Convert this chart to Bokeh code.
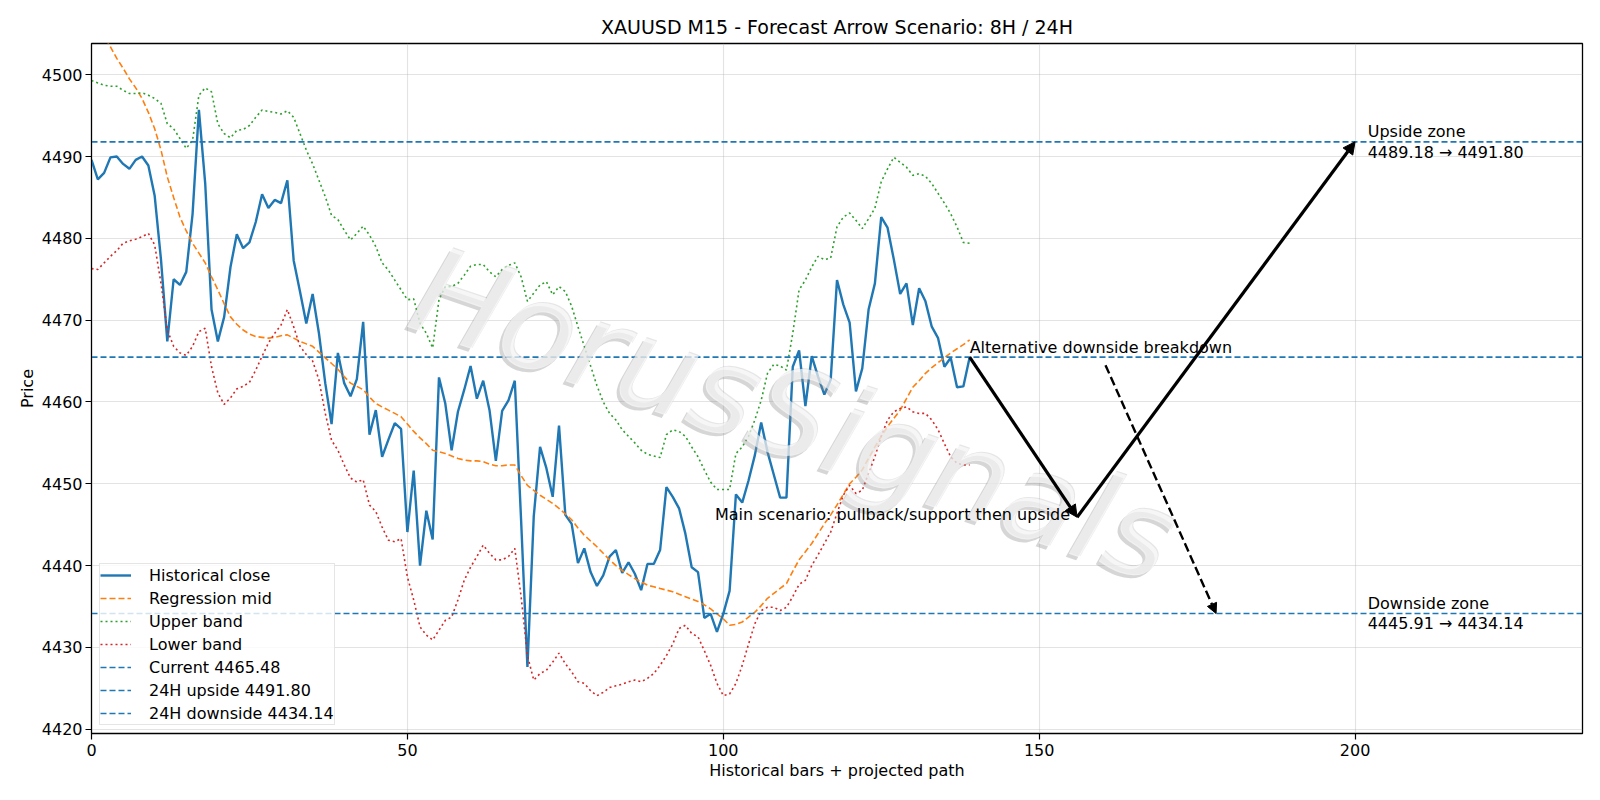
from bokeh.plotting import figure
from bokeh.models import (Range1d, Arrow, NormalHead, Legend, LegendItem,
                          FixedTicker, ColumnDataSource)
from bokeh.core.properties import value
from bokeh.embed import file_html
from bokeh.resources import INLINE

# ---------------- data ----------------
close = [4489.6, 4487.2, 4488.0, 4489.9, 4490.0, 4489.1, 4488.5, 4489.6, 4490.0, 4488.9,
         4485.2, 4477.4, 4467.4, 4475.0, 4474.3, 4475.9, 4483.0, 4495.7, 4486.7, 4471.3,
         4467.4, 4470.4, 4476.5, 4480.5, 4478.8, 4479.5, 4482.0, 4485.4, 4483.7, 4484.7,
         4484.3, 4487.1, 4477.3, 4473.5, 4469.6, 4473.2, 4468.4, 4462.3, 4457.3, 4466.0,
         4462.3, 4460.7, 4462.8, 4469.8, 4456.0, 4459.0, 4453.3, 4455.4, 4457.4, 4456.7,
         4444.1, 4451.6, 4440.0, 4446.7, 4443.2, 4463.0, 4459.8, 4454.1, 4458.8, 4461.5,
         4464.4, 4460.4, 4462.6, 4459.0, 4452.8, 4458.9, 4460.2, 4462.6, 4445.5, 4427.6,
         4446.0, 4454.5, 4451.9, 4448.4, 4457.1, 4446.2, 4445.1, 4440.3, 4442.1, 4439.2,
         4437.5, 4438.8, 4441.1, 4441.9, 4439.1, 4440.4, 4439.0, 4437.0, 4440.2, 4440.2,
         4441.9, 4449.6, 4448.4, 4447.0, 4443.9, 4439.8, 4439.2, 4433.6, 4434.1, 4431.9,
         4434.1, 4436.9, 4448.7, 4447.7, 4450.4, 4453.5, 4457.5, 4453.9, 4451.1, 4448.3,
         4448.3, 4464.3, 4466.3, 4459.5, 4465.6, 4463.1, 4460.9, 4462.7, 4474.9, 4471.9,
         4469.7, 4461.3, 4464.1, 4471.3, 4474.5, 4482.6, 4481.3, 4477.4, 4473.2, 4474.5,
         4469.4, 4473.9, 4472.3, 4469.2, 4467.8, 4464.3, 4465.4, 4461.8, 4461.9, 4465.48]

reg_mid = [4507.2, 4506.0, 4504.7, 4503.4, 4502.0, 4500.8, 4499.5, 4498.4, 4497.1, 4495.4,
           4493.4, 4490.8, 4487.5, 4485.0, 4482.6, 4480.9, 4479.4, 4478.2, 4477.0, 4475.3,
           4473.7, 4472.0, 4470.4, 4469.5, 4468.8, 4468.3, 4468.0, 4467.9, 4467.8, 4467.9,
           4468.1, 4468.2, 4467.8, 4467.4, 4467.1, 4466.8, 4466.1, 4465.4, 4464.7, 4464.0,
           4463.1, 4462.3, 4461.9, 4461.5, 4460.6, 4459.8, 4459.4, 4459.0, 4458.6, 4458.2,
           4457.3, 4456.4, 4455.6, 4454.9, 4454.1, 4453.9, 4453.7, 4453.4, 4453.1, 4452.9,
           4452.8, 4452.8, 4452.7, 4452.4, 4452.2, 4452.2, 4452.3, 4452.3, 4451.0, 4449.8,
           4449.2, 4448.6, 4448.1, 4447.6, 4447.0, 4446.3, 4445.6, 4444.6, 4443.7, 4443.0,
           4442.3, 4441.5, 4440.7, 4440.0, 4439.4, 4438.9, 4438.4, 4438.0, 4437.6, 4437.4,
           4437.2, 4437.0, 4436.8, 4436.5, 4436.2, 4435.9, 4435.6, 4435.2, 4434.7, 4434.1,
           4433.5, 4432.7, 4432.8, 4433.1, 4433.7, 4434.3, 4435.1, 4436.0, 4436.6, 4437.2,
           4437.8, 4439.3, 4440.7, 4441.7, 4442.7, 4443.9, 4445.1, 4446.2, 4447.4, 4448.7,
           4450.0, 4450.8, 4451.7, 4453.1, 4454.5, 4455.8, 4457.0, 4458.0, 4459.0, 4460.4,
           4461.8, 4462.6, 4463.5, 4464.2, 4464.8, 4465.4, 4466.0, 4466.5, 4467.0, 4467.6]

upper_band = [4499.3, 4499.0, 4498.7, 4498.6, 4498.6, 4498.1, 4497.7, 4497.7, 4497.8, 4497.5,
              4497.1, 4496.5, 4494.0, 4493.4, 4492.2, 4491.0, 4492.0, 4497.5, 4498.4, 4497.9,
              4494.0, 4492.8, 4492.3, 4493.2, 4493.3, 4493.8, 4494.8, 4495.7, 4495.5, 4495.4,
              4495.2, 4495.6, 4494.8, 4492.8, 4490.8, 4489.1, 4487.1, 4485.1, 4482.8, 4482.3,
              4481.0, 4479.8, 4480.6, 4481.5, 4480.4, 4479.0, 4477.0, 4476.1, 4474.9, 4473.7,
              4472.5, 4472.6, 4469.6, 4468.4, 4466.6, 4472.5, 4474.1, 4474.1, 4474.5, 4475.5,
              4476.6, 4476.8, 4476.8, 4475.9, 4475.3, 4476.2, 4476.7, 4477.0, 4475.3, 4472.3,
              4473.3, 4474.3, 4474.7, 4473.1, 4474.1, 4473.5, 4471.7, 4469.2, 4466.8, 4464.4,
              4462.0, 4460.0, 4458.6, 4457.8, 4456.6, 4455.8, 4455.0, 4454.1, 4453.6, 4453.4,
              4453.2, 4456.0, 4456.6, 4456.4, 4455.8, 4454.5, 4453.3, 4451.7, 4450.2, 4449.3,
              4449.3, 4449.3, 4453.7, 4454.5, 4455.8, 4457.8, 4460.2, 4463.5, 4464.6, 4464.4,
              4463.9, 4468.4, 4473.7, 4474.9, 4476.5, 4477.8, 4477.4, 4477.6, 4481.4, 4482.6,
              4483.1, 4482.2, 4481.2, 4482.4, 4483.7, 4486.9, 4488.5, 4489.9, 4489.3, 4488.7,
              4487.7, 4487.9, 4487.6, 4486.7, 4485.5, 4484.3, 4483.0, 4481.4, 4479.5, 4479.4]

lower_band = [4476.3, 4476.2, 4477.0, 4477.8, 4478.5, 4479.4, 4479.7, 4479.9, 4480.2, 4480.6,
              4479.2, 4474.5, 4468.8, 4466.8, 4466.0, 4465.7, 4466.8, 4468.6, 4469.0, 4464.3,
              4461.1, 4459.7, 4460.5, 4461.6, 4461.9, 4462.4, 4463.9, 4465.6, 4467.2, 4468.4,
              4469.4, 4471.3, 4469.2, 4466.8, 4465.8, 4465.0, 4462.7, 4458.6, 4455.3, 4454.1,
              4452.3, 4450.7, 4450.2, 4450.5, 4447.4, 4446.6, 4444.7, 4443.1, 4442.9, 4443.3,
              4438.6, 4435.8, 4432.5, 4431.5, 4430.9, 4432.1, 4433.3, 4433.7, 4435.8, 4438.2,
              4439.8, 4441.1, 4442.5, 4441.5, 4440.7, 4440.7, 4441.1, 4442.1, 4436.2, 4429.0,
              4426.0, 4426.8, 4427.2, 4428.2, 4429.3, 4428.0, 4427.0, 4425.8, 4425.6, 4424.7,
              4424.1, 4424.5, 4425.1, 4425.3, 4425.5, 4425.8, 4426.0, 4425.8, 4426.2, 4426.8,
              4427.8, 4429.0, 4430.4, 4432.3, 4432.7, 4431.7, 4431.3, 4429.6, 4427.8, 4425.6,
              4424.1, 4424.3, 4425.6, 4427.8, 4430.4, 4432.9, 4434.5, 4434.9, 4434.9, 4434.5,
              4434.9, 4436.2, 4437.7, 4438.2, 4440.0, 4441.3, 4442.7, 4444.1, 4446.4, 4448.6,
              4449.8, 4448.8, 4449.2, 4451.3, 4453.3, 4455.8, 4457.8, 4458.8, 4459.2, 4459.4,
              4458.8, 4458.6, 4458.6, 4457.8, 4456.6, 4454.9, 4453.3, 4452.5, 4452.3, 4452.3]

bars = list(range(len(close)))

current_price = 4465.48
upside_24h = 4491.80
downside_24h = 4434.14
upside_8h = 4489.18
downside_8h = 4445.91

# projected main path: current -> 8H pullback -> 24H upside
path_x = [139, 156, 200]
path_y = [current_price, downside_8h, upside_24h]
# alternative breakdown arrow (starts at the annotation's text box)
alt_x = [160.5, 178]
alt_y = [4464.5, downside_24h]

x_lim = (0, 236)
y_lim = (4419.47, 4503.82)
x_ticks = [0, 50, 100, 150, 200]
y_ticks = [4420, 4430, 4440, 4450, 4460, 4470, 4480, 4490, 4500]

FONT = "DejaVu Sans"
FS = "16px"
BLUE = "#1f77b4"
ORANGE = "#ff7f0e"
GREEN = "#2ca02c"
RED = "#d62728"

# ---------------- figure ----------------
p = figure(width=1600, height=800, output_backend="svg", toolbar_location=None,
           x_range=Range1d(*x_lim), y_range=Range1d(*y_lim),
           title="XAUUSD M15 - Forecast Arrow Scenario: 8H / 24H",
           min_border_left=91, min_border_right=18, min_border_top=43, min_border_bottom=67)

p.title.align = "center"
p.title.text_font = FONT
p.title.text_font_size = "19px"
p.title.text_font_style = "normal"
p.title.text_color = "black"
p.title.standoff = 11

p.background_fill_color = "white"
p.border_fill_color = "white"
p.outline_line_color = "black"
p.outline_line_width = 1.3

for ax in (p.xaxis[0], p.yaxis[0]):
    ax.major_label_text_font = FONT
    ax.major_label_text_font_size = FS
    ax.major_label_text_color = "black"
    ax.axis_label_text_font = FONT
    ax.axis_label_text_font_size = FS
    ax.axis_label_text_font_style = "normal"
    ax.axis_label_text_color = "black"
    ax.major_tick_out = 6
    ax.major_tick_in = 0
    ax.minor_tick_out = 0
    ax.minor_tick_in = 0
    ax.axis_line_color = "black"
    ax.major_tick_line_color = "black"
    ax.major_tick_line_width = 1.2

p.xaxis.axis_label = "Historical bars + projected path"
p.yaxis.axis_label = "Price"
p.xaxis.major_label_standoff = 4
p.yaxis.major_label_standoff = 3
p.xaxis.axis_label_standoff = 2
p.yaxis.axis_label_standoff = 2
p.xaxis.ticker = FixedTicker(ticks=x_ticks)
p.yaxis.ticker = FixedTicker(ticks=y_ticks)

p.xgrid.ticker = FixedTicker(ticks=x_ticks)
p.ygrid.ticker = FixedTicker(ticks=y_ticks)
for g in (p.xgrid[0], p.ygrid[0]):
    g.grid_line_color = "#b0b0b0"
    g.grid_line_alpha = 0.35
    g.grid_line_width = 1.1

# series
r_close = p.line(bars, close, line_color=BLUE, line_width=2.4)
r_mid = p.line(bars, reg_mid, line_color=ORANGE, line_width=1.6, line_dash="6 3")
r_up = p.line(bars, upper_band, line_color=GREEN, line_width=1.6, line_dash="2 3")
r_lo = p.line(bars, lower_band, line_color=RED, line_width=1.6, line_dash="2 3")

hx = [x_lim[0], x_lim[1]]
r_cur = p.line(hx, [current_price] * 2, line_color=BLUE, line_width=1.6, line_dash="6 3")
r_upz = p.line(hx, [upside_24h] * 2, line_color=BLUE, line_width=1.6, line_dash="6 3")
r_dnz = p.line(hx, [downside_24h] * 2, line_color=BLUE, line_width=1.6, line_dash="6 3")

# embossed watermark (outline/shadow + light face on top)
wm = dict(x=[111.2], y=[4458.4], text=["HorusSignals"], angle=-0.33,
          text_font=value(FONT), text_font_style="italic", text_font_size="122px",
          text_align="center", text_baseline="middle")
p.text(**wm, text_color="#8c8c8c", text_alpha=0.36, x_offset=-3, y_offset=3)
p.text(**wm, text_color="#8c8c8c", text_alpha=0.22, x_offset=1, y_offset=-1)
p.text(**wm, text_color="white", text_alpha=0.65)

# main path arrows
main_src = ColumnDataSource(dict(x0=path_x[:-1], y0=path_y[:-1], x1=path_x[1:], y1=path_y[1:]))
p.add_layout(Arrow(end=NormalHead(size=12, fill_color="black", line_color="black", line_width=1),
                   x_start="x0", y_start="y0", x_end="x1", y_end="y1",
                   source=main_src, line_color="black", line_width=3.2))
# alternative dashed arrow
alt_src = ColumnDataSource(dict(x0=[alt_x[0]], y0=[alt_y[0]], x1=[alt_x[1]], y1=[alt_y[1]]))
p.add_layout(Arrow(end=NormalHead(size=10, fill_color="black", line_color="black", line_width=1),
                   x_start="x0", y_start="y0", x_end="x1", y_end="y1",
                   source=alt_src, line_color="black", line_width=2.4, line_dash="9 4"))

# annotations
p.text(x=[path_x[0]], y=[current_price], text=["Alternative downside breakdown"],
       text_font=value(FONT), text_font_size=FS, text_color="black",
       text_align="left", text_baseline="bottom")
p.text(x=[path_x[1]], y=[downside_8h], text=["Main scenario: pullback/support then upside"],
       text_font=value(FONT), text_font_size=FS, text_color="black",
       text_align="right", text_baseline="middle", x_offset=-7, y_offset=-3)
p.text(x=[202, 202], y=[upside_24h, downside_24h],
       text=[f"Upside zone\n{upside_8h:.2f} \u2192 {upside_24h:.2f}",
             f"Downside zone\n{downside_8h:.2f} \u2192 {downside_24h:.2f}"],
       text_font=value(FONT), text_font_size=FS, text_color="black",
       text_align="left", text_baseline="middle", text_line_height=1.08)

legend = Legend(items=[
    LegendItem(label="Historical close", renderers=[r_close]),
    LegendItem(label="Regression mid", renderers=[r_mid]),
    LegendItem(label="Upper band", renderers=[r_up]),
    LegendItem(label="Lower band", renderers=[r_lo]),
    LegendItem(label=f"Current {current_price:.2f}", renderers=[r_cur]),
    LegendItem(label=f"24H upside {upside_24h:.2f}", renderers=[r_upz]),
    LegendItem(label=f"24H downside {downside_24h:.2f}", renderers=[r_dnz]),
], location="bottom_left")
legend.label_text_font = FONT
legend.label_text_font_size = FS
legend.label_text_color = "black"
legend.glyph_width = 31
legend.glyph_height = 22
legend.label_height = 22
legend.spacing = 1
legend.padding = 0
legend.margin = 8
legend.label_standoff = 18
legend.border_line_color = "#cccccc"
legend.border_line_width = 1
legend.background_fill_alpha = 0.8
p.add_layout(legend)

open("out.html", "w").write(file_html(p, INLINE))
